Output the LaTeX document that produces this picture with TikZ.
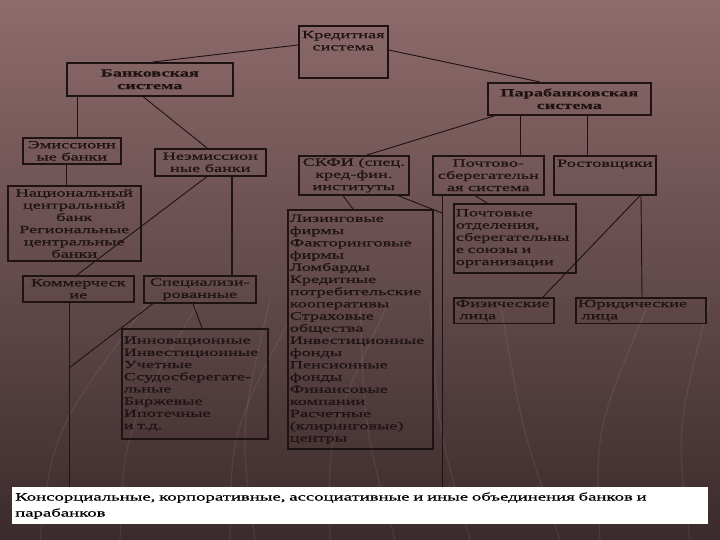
\documentclass[tikz,border=0pt]{standalone}
\usepackage{fontspec}
\setmainfont[FakeStretch=1.66,FakeBold=0.6]{Liberation Serif}
\definecolor{bgtop}{HTML}{8E6B6C}
\definecolor{bgmid}{HTML}{785859}
\definecolor{bgbot}{HTML}{3B2B2C}
\definecolor{ink}{HTML}{1E1212}
\tikzset{
  cell/.style={draw=ink, line width=1.6pt, text=ink, inner sep=2pt, anchor=north west,
    font=\fontsize{11}{12.2}\selectfont},
  head/.style={cell, font=\fontsize{11}{12.6}\selectfont\bfseries},
  link/.style={draw=ink, line width=0.9pt},
  streak/.style={draw=white, opacity=0.07, line width=1.2pt},
}
\begin{document}
\begin{tikzpicture}[x=1pt,y=-1pt]
\shade [top color=bgtop, middle color=bgmid, bottom color=bgbot] (0,0) rectangle (720,540);
\useasboundingbox (0,0) rectangle (720,540);
\foreach \sx/\ex in {40/150, 120/200, 230/300, 330/390, 470/430, 560/500, 600/650, 690/710, 255/270, 395/360}
  \draw [streak] (\sx,540) .. controls (\sx*0.7+\ex*0.3-20,430) .. (\ex,300);

\node [cell, minimum width=89, minimum height=52, align=center] (credit) at (298,25) {Кредитная\\система\\[10pt]\mbox{}};
\node [head, minimum width=166, minimum height=33, align=center] (bank) at (66,62) {Банковская\\система};
\node [head, minimum width=163, minimum height=32, align=center] (para) at (487,82) {Парабанковская\\система};

\node [cell, minimum width=98, minimum height=26, align=center] (emis) at (22,137) {Эмиссионн\\ые банки};
\node [cell, minimum width=111, minimum height=27, align=center] (nonemis) at (154,148) {Неэмиссион\\ные банки};
\node [cell, minimum width=133, minimum height=75, align=center] (central) at (7,185) {Национальный\\центральный\\банк\\Региональные\\центральные\\банки};
\node [cell, minimum width=111, minimum height=26, align=center] (comm) at (22,275) {Коммерческ\\ие};
\node [cell, minimum width=112, minimum height=27, align=center] (spec) at (143,275) {Специализи-\\рованные};
\node [cell, minimum width=146, minimum height=110, text width=142, align=left] (innov) at (121,328) {Инновационные\\Инвестиционные\\Учетные\\Ссудосберегате-\\льные\\Биржевые\\Ипотечные\\и т.д.};

\node [cell, minimum width=110, minimum height=39, align=center] (skfi) at (298,155) {СКФИ (спец.\\кред-фин.\\институты};
\node [cell, minimum width=111, minimum height=39, align=center] (postsys) at (432,155) {Почтово-\\сберегательн\\ая система};
\node [cell, minimum width=102, minimum height=39, align=center] (usurer) at (553,155) {Ростовщики\\[12pt]\mbox{}};
\node [cell, minimum width=145, minimum height=239, text width=141, align=left] (leasing) at (287,209) {Лизинговые\\фирмы\\Факторинговые\\фирмы\\Ломбарды\\Кредитные\\потребительские\\кооперативы\\Страховые\\общества\\Инвестиционные\\фонды\\Пенсионные\\фонды\\Финансовые\\компании\\Расчетные\\(клиринговые)\\центры};
\node [cell, minimum width=122, minimum height=69, text width=118, align=left] (postoff) at (453,203) {Почтовые\\отделения,\\сберегательны\\е союзы и\\организации};
\node [cell, minimum width=100, minimum height=25, text width=96, align=left] (phys) at (453,297) {Физические\\\ лица};
\node [cell, minimum width=130, minimum height=25, text width=126, align=left] (legal) at (575,297) {Юридические\\\ лица};

\node [anchor=north west, fill=white, text=black, minimum width=696, minimum height=37, text width=690, inner sep=3pt, align=left, font=\fontsize{11.3}{16}\selectfont] (union) at (12,487) {Консорциальные, корпоративные, ассоциативные и иные объединения банков и\\парабанков};

\coordinate (commjoin) at (69,368);
\coordinate (postjoin) at (442,213);

\draw [link] ([yshift=-20]credit.north west) -- ([xshift=87]bank.north west);
\draw [link] ([yshift=-25]credit.north east) -- ([xshift=53]para.north west);
\draw [link] ([xshift=11]bank.south west) -- ([xshift=55]emis.north west);
\draw [link] ([xshift=77]bank.south west) -- ([xshift=53]nonemis.north west);
\draw [link] ([xshift=44]emis.south west) -- ([xshift=59]central.north west);
\draw [link] ([xshift=53]nonemis.south west) -- ([xshift=55]comm.north west);
\draw [link, line width=1.8pt] ([xshift=78]nonemis.south west) -- ([xshift=89]spec.north west);
\draw [link] ([xshift=50]spec.south west) -- ([xshift=81]innov.north west);
\draw [link] ([xshift=10]spec.south west) -- (commjoin);
\draw [link] ([xshift=47]comm.south west) -- ([xshift=57]union.north west);
\draw [link] ([xshift=8]para.south west) -- ([xshift=69]skfi.north west);
\draw [link] ([xshift=33]para.south west) -- ([xshift=88]postsys.north west);
\draw [link] ([xshift=100]para.south west) -- ([xshift=34]usurer.north west);
\draw [link] ([xshift=45]skfi.south west) -- ([xshift=66]leasing.north west);
\draw [link] ([xshift=100]skfi.south west) -- (postjoin);
\draw [link] ([xshift=10]postsys.south west) -- ([xshift=430]union.north west);
\draw [link] ([xshift=43]postsys.south west) -- ([xshift=34]postoff.north west);
\draw [link] ([xshift=87]usurer.south west) -- ([xshift=90]phys.north west);
\draw [link] ([xshift=88]usurer.south west) -- ([xshift=67]legal.north west);
\end{tikzpicture}
\end{document}
